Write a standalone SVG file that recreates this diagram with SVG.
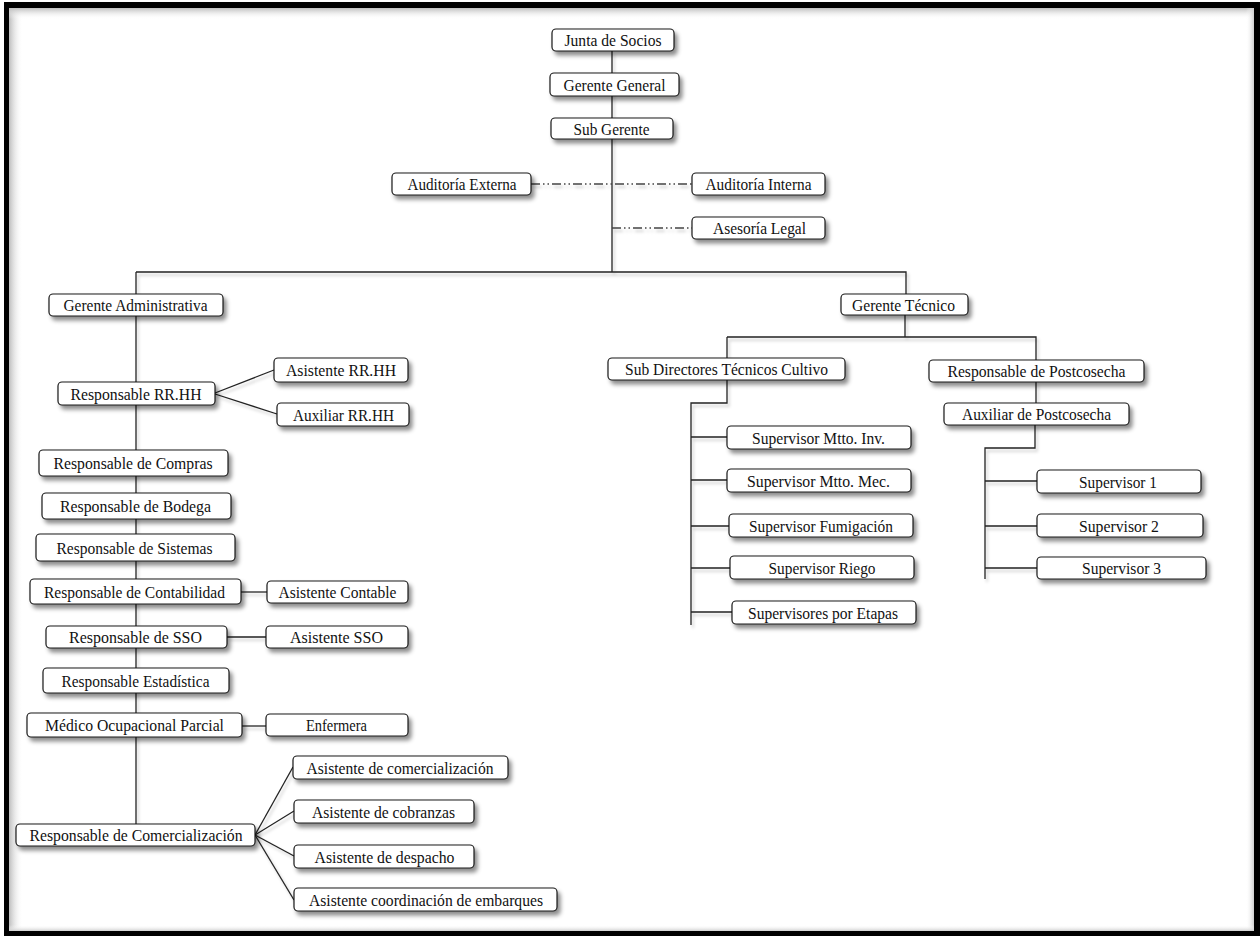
<svg xmlns="http://www.w3.org/2000/svg" width="1260" height="936" viewBox="0 0 1260 936">
  <defs>
    <filter id="boxShadow" x="-10%" y="-30%" width="130%" height="190%">
      <feDropShadow dx="3" dy="4" stdDeviation="2.2" flood-color="#000" flood-opacity="0.45"/>
    </filter>
    <filter id="lineShadow" x="-5%" y="-5%" width="110%" height="110%">
      <feDropShadow dx="2" dy="3" stdDeviation="1.6" flood-color="#000" flood-opacity="0.22"/>
    </filter>
    <linearGradient id="edgeLeft" x1="0" y1="0" x2="1" y2="0">
      <stop offset="0" stop-color="#bdbdbd"/>
      <stop offset="1" stop-color="#ffffff" stop-opacity="0"/>
    </linearGradient>
    <linearGradient id="edgeTop" x1="0" y1="0" x2="0" y2="1">
      <stop offset="0" stop-color="#bdbdbd"/>
      <stop offset="1" stop-color="#ffffff" stop-opacity="0"/>
    </linearGradient>
    <linearGradient id="edgeRight" x1="1" y1="0" x2="0" y2="0">
      <stop offset="0" stop-color="#cfcfcf"/>
      <stop offset="1" stop-color="#ffffff" stop-opacity="0"/>
    </linearGradient>
    <linearGradient id="edgeBottom" x1="0" y1="1" x2="0" y2="0">
      <stop offset="0" stop-color="#cfcfcf"/>
      <stop offset="1" stop-color="#ffffff" stop-opacity="0"/>
    </linearGradient>
  </defs>
  <style>
    .node rect { fill: #ffffff; stroke: #1a1a1a; stroke-width: 1.2; filter: url(#boxShadow); }
    .node text { font-family: "Liberation Serif", "Times New Roman", serif; font-size: 17px; fill: #111; text-anchor: middle; }
    #connectors path { fill: none; stroke: #222; stroke-width: 1.3; }
    #connectors .dashdot { stroke: #444; stroke-dasharray: 9 3 1.5 3 1.5 3; }
  </style>

  <!-- page frame -->
  <rect x="0" y="0" width="1260" height="936" fill="#ffffff"/>
  <rect x="4" y="2" width="1256" height="934" fill="#000000"/>
  <rect x="9" y="8" width="1245" height="923" fill="#ffffff"/>
  <rect x="9" y="8" width="14" height="923" fill="url(#edgeLeft)"/>
  <rect x="9" y="8" width="1245" height="11" fill="url(#edgeTop)"/>
  <rect x="1246" y="8" width="8" height="923" fill="url(#edgeRight)"/>
  <rect x="9" y="925" width="1245" height="6" fill="url(#edgeBottom)"/>

  <!-- connectors -->
  <g id="connectors" filter="url(#lineShadow)">
    <path d="M612 51 V272"/>
    <path d="M136 272 H906 V294"/>
    <path d="M136 272 V824"/>
    <path d="M905 315 V337"/>
    <path d="M727 337 H1036 V360"/>
    <path d="M727 337 V358"/>
    <path d="M727 380 V403 H691 V625"/>
    <path d="M691 437 H727"/>
    <path d="M691 480 H727"/>
    <path d="M691 526 H729"/>
    <path d="M691 568 H730"/>
    <path d="M691 612 H732"/>
    <path d="M1036 382 V403"/>
    <path d="M1035 425 V448 H985 V579"/>
    <path d="M985 481 H1037"/>
    <path d="M985 526 H1037"/>
    <path d="M985 568 H1037"/>
    <path d="M215 393 L274 370"/>
    <path d="M215 394 L277 414"/>
    <path d="M241 592 H267"/>
    <path d="M227 637 H266"/>
    <path d="M242 726 H266"/>
    <path d="M255 835 L293 767"/>
    <path d="M255 835 L294 811"/>
    <path d="M255 835 L294 856"/>
    <path d="M255 835 L294 900"/>
    <path class="dashdot" d="M531 184 H692"/>
    <path class="dashdot" d="M612 228 H692"/>
  </g>

  <!-- top management -->
  <g id="junta-de-socios" class="node"><rect x="552" y="29" width="122" height="22" rx="4"/><text x="613" y="46" textLength="97" lengthAdjust="spacingAndGlyphs">Junta de Socios</text></g>
  <g id="gerente-general" class="node"><rect x="550" y="73" width="129" height="23" rx="4"/><text x="614.5" y="90.5" textLength="102" lengthAdjust="spacingAndGlyphs">Gerente General</text></g>
  <g id="sub-gerente" class="node"><rect x="551" y="118" width="122" height="21" rx="4"/><text x="611.5" y="134.5" textLength="76" lengthAdjust="spacingAndGlyphs">Sub Gerente</text></g>
  <g id="auditoria-externa" class="node"><rect x="392" y="173" width="139" height="22" rx="4"/><text x="462" y="190" textLength="109" lengthAdjust="spacingAndGlyphs">Auditoría Externa</text></g>
  <g id="auditoria-interna" class="node"><rect x="692" y="173" width="133" height="22" rx="4"/><text x="758.5" y="190" textLength="106" lengthAdjust="spacingAndGlyphs">Auditoría Interna</text></g>
  <g id="asesoria-legal" class="node"><rect x="692" y="217" width="133" height="22" rx="4"/><text x="759.5" y="234" textLength="93" lengthAdjust="spacingAndGlyphs">Asesoría Legal</text></g>

  <!-- administrative branch -->
  <g id="gerente-administrativa" class="node"><rect x="49" y="294" width="174" height="22" rx="4"/><text x="135.5" y="311" textLength="144" lengthAdjust="spacingAndGlyphs">Gerente Administrativa</text></g>
  <g id="responsable-rrhh" class="node"><rect x="58" y="382" width="157" height="23" rx="4"/><text x="136" y="399.5" textLength="131" lengthAdjust="spacingAndGlyphs">Responsable RR.HH</text></g>
  <g id="asistente-rrhh" class="node"><rect x="274" y="358" width="134" height="24" rx="4"/><text x="341" y="376" textLength="110" lengthAdjust="spacingAndGlyphs">Asistente RR.HH</text></g>
  <g id="auxiliar-rrhh" class="node"><rect x="277" y="403" width="132" height="23" rx="4"/><text x="343.5" y="420.5" textLength="101" lengthAdjust="spacingAndGlyphs">Auxiliar RR.HH</text></g>
  <g id="responsable-compras" class="node"><rect x="39" y="450" width="189" height="26" rx="4"/><text x="133" y="469" textLength="159" lengthAdjust="spacingAndGlyphs">Responsable de Compras</text></g>
  <g id="responsable-bodega" class="node"><rect x="42" y="493" width="189" height="26" rx="4"/><text x="135.5" y="512" textLength="151" lengthAdjust="spacingAndGlyphs">Responsable de Bodega</text></g>
  <g id="responsable-sistemas" class="node"><rect x="36" y="534" width="199" height="27" rx="4"/><text x="134.5" y="553.5" textLength="156" lengthAdjust="spacingAndGlyphs">Responsable de Sistemas</text></g>
  <g id="responsable-contabilidad" class="node"><rect x="30" y="579" width="211" height="25" rx="4"/><text x="134.5" y="597.5" textLength="181" lengthAdjust="spacingAndGlyphs">Responsable de Contabilidad</text></g>
  <g id="asistente-contable" class="node"><rect x="267" y="581" width="141" height="22" rx="4"/><text x="337.5" y="598" textLength="118" lengthAdjust="spacingAndGlyphs">Asistente Contable</text></g>
  <g id="responsable-sso" class="node"><rect x="46" y="626" width="181" height="22" rx="4"/><text x="135.5" y="643" textLength="133" lengthAdjust="spacingAndGlyphs">Responsable de SSO</text></g>
  <g id="asistente-sso" class="node"><rect x="266" y="626" width="142" height="22" rx="4"/><text x="336.5" y="643" textLength="93" lengthAdjust="spacingAndGlyphs">Asistente SSO</text></g>
  <g id="responsable-estadistica" class="node"><rect x="43" y="668" width="186" height="25" rx="4"/><text x="135.5" y="686.5" textLength="148" lengthAdjust="spacingAndGlyphs">Responsable Estadística</text></g>
  <g id="medico-ocupacional" class="node"><rect x="27" y="713" width="215" height="24" rx="4"/><text x="134.5" y="731" textLength="179" lengthAdjust="spacingAndGlyphs">Médico Ocupacional Parcial</text></g>
  <g id="enfermera" class="node"><rect x="266" y="714" width="142" height="22" rx="4"/><text x="336.5" y="731" textLength="61" lengthAdjust="spacingAndGlyphs">Enfermera</text></g>
  <g id="responsable-comercializacion" class="node"><rect x="16" y="824" width="239" height="22" rx="4"/><text x="136" y="841" textLength="213" lengthAdjust="spacingAndGlyphs">Responsable de Comercialización</text></g>
  <g id="asistente-comercializacion" class="node"><rect x="293" y="756" width="215" height="23" rx="4"/><text x="400" y="773.5" textLength="187" lengthAdjust="spacingAndGlyphs">Asistente de comercialización</text></g>
  <g id="asistente-cobranzas" class="node"><rect x="294" y="800" width="180" height="23" rx="4"/><text x="383.5" y="817.5" textLength="143" lengthAdjust="spacingAndGlyphs">Asistente de cobranzas</text></g>
  <g id="asistente-despacho" class="node"><rect x="294" y="845" width="180" height="23" rx="4"/><text x="384.5" y="862.5" textLength="140" lengthAdjust="spacingAndGlyphs">Asistente de despacho</text></g>
  <g id="asistente-embarques" class="node"><rect x="294" y="888" width="263" height="23" rx="4"/><text x="426" y="905.5" textLength="234" lengthAdjust="spacingAndGlyphs">Asistente coordinación de embarques</text></g>

  <!-- technical branch -->
  <g id="gerente-tecnico" class="node"><rect x="841" y="294" width="127" height="21" rx="4"/><text x="903.5" y="310.5" textLength="103" lengthAdjust="spacingAndGlyphs">Gerente Técnico</text></g>
  <g id="sub-directores" class="node"><rect x="608" y="358" width="237" height="22" rx="4"/><text x="726.5" y="375" textLength="203" lengthAdjust="spacingAndGlyphs">Sub Directores Técnicos Cultivo</text></g>
  <g id="supervisor-mtto-inv" class="node"><rect x="727" y="426" width="184" height="23" rx="4"/><text x="818.5" y="443.5" textLength="133" lengthAdjust="spacingAndGlyphs">Supervisor Mtto. Inv.</text></g>
  <g id="supervisor-mtto-mec" class="node"><rect x="727" y="469" width="184" height="23" rx="4"/><text x="818.5" y="486.5" textLength="143" lengthAdjust="spacingAndGlyphs">Supervisor Mtto. Mec.</text></g>
  <g id="supervisor-fumigacion" class="node"><rect x="729" y="514" width="184" height="23" rx="4"/><text x="821" y="531.5" textLength="144" lengthAdjust="spacingAndGlyphs">Supervisor Fumigación</text></g>
  <g id="supervisor-riego" class="node"><rect x="730" y="556" width="184" height="23" rx="4"/><text x="822" y="573.5" textLength="107" lengthAdjust="spacingAndGlyphs">Supervisor Riego</text></g>
  <g id="supervisores-etapas" class="node"><rect x="732" y="601" width="184" height="23" rx="4"/><text x="823" y="618.5" textLength="150" lengthAdjust="spacingAndGlyphs">Supervisores por Etapas</text></g>
  <g id="responsable-postcosecha" class="node"><rect x="929" y="360" width="215" height="22" rx="4"/><text x="1036.5" y="377" textLength="178" lengthAdjust="spacingAndGlyphs">Responsable de Postcosecha</text></g>
  <g id="auxiliar-postcosecha" class="node"><rect x="944" y="403" width="185" height="22" rx="4"/><text x="1036.5" y="420" textLength="149" lengthAdjust="spacingAndGlyphs">Auxiliar de Postcosecha</text></g>
  <g id="supervisor-1" class="node"><rect x="1037" y="470" width="164" height="23" rx="4"/><text x="1118" y="487.5" textLength="78" lengthAdjust="spacingAndGlyphs">Supervisor 1</text></g>
  <g id="supervisor-2" class="node"><rect x="1037" y="514" width="166" height="23" rx="4"/><text x="1119" y="531.5" textLength="80" lengthAdjust="spacingAndGlyphs">Supervisor 2</text></g>
  <g id="supervisor-3" class="node"><rect x="1037" y="557" width="169" height="22" rx="4"/><text x="1121.5" y="574" textLength="79" lengthAdjust="spacingAndGlyphs">Supervisor 3</text></g>
</svg>
